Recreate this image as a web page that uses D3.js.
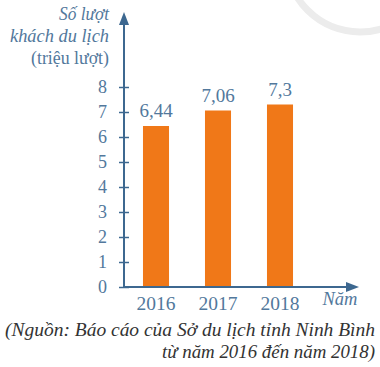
<!DOCTYPE html>
<html><head><meta charset="utf-8">
<script src="https://cdn.jsdelivr.net/npm/d3@7"></script>
</head>
<body style="margin:0"><svg id="c" width="380" height="367"></svg>
<script>
const years = ["2016","2017","2018"];
const visitors = [6.44, 7.06, 7.3];
const valueLabels = ["6,44","7,06","7,3"];
const yTicks = [0,1,2,3,4,5,6,7,8];
const yTitle = ["Số lượt","khách du lịch","(triệu lượt)"];
const xTitle = "Năm";
const source = ["(Nguồn: Báo cáo của Sở du lịch tỉnh Ninh Bình","từ năm 2016 đến năm 2018)"];

const svg = d3.select("#c");
const axisCol = "#3d6890", textCol = "#52789c", barCol = "#f07818";
const x0 = 124, y0 = 287;

function serif(sel, size, italic){
  return sel.attr("font-family", "'Liberation Serif'")
            .style("font-family", "'Liberation Serif'")
            .attr("font-size", size)
            .style("font-style", italic ? "italic" : "normal");
}

// faint decoration arc
svg.append("circle").attr("cx",360).attr("cy",-42).attr("r",74)
  .attr("fill","none").attr("stroke","#ececec").attr("stroke-width",7);

const y = d3.scaleLinear().domain([0,8]).range([y0, 87]);
const x = d3.scaleBand().domain(years).range([125, 311]).paddingInner(0.58).paddingOuter(0.29);

// bars
svg.selectAll("rect.bar").data(visitors).join("rect")
  .attr("class","bar")
  .attr("x",(d,i)=>x(years[i]))
  .attr("width",x.bandwidth())
  .attr("y",d=>y(d))
  .attr("height",d=>y0-y(d))
  .attr("fill",barCol);

// value labels
serif(svg.selectAll("text.val").data(visitors).join("text")
  .attr("class","val")
  .attr("x",(d,i)=>x(years[i])+x.bandwidth()/2)
  .attr("y",d=>y(d)-9)
  .attr("text-anchor","middle")
  .attr("fill",textCol)
  .text((d,i)=>valueLabels[i]), 19, false);

// y axis
const yAxis = d3.axisLeft(y).tickValues(yTicks).tickSize(0).tickPadding(17).tickFormat(d3.format("d"));
const gy = svg.append("g").attr("transform",`translate(${x0},0)`).call(yAxis);
gy.select(".domain").remove();
serif(gy, 18, false);
serif(gy.selectAll("text"), 18, false).attr("fill",textCol);
gy.selectAll(".tick").append("line").attr("x1",-5).attr("x2",5).attr("stroke",axisCol).attr("stroke-width",1.5);

// x axis labels
const xAxis = d3.axisBottom(x).tickSize(0).tickPadding(9);
const gx = svg.append("g").attr("transform",`translate(0,${y0})`).call(xAxis);
gx.select(".domain").remove();
serif(gx, 19.5, false);
serif(gx.selectAll("text"), 19.5, false).attr("fill",textCol);

// axis lines with arrows
svg.append("line").attr("x1",x0).attr("y1",y0).attr("x2",x0).attr("y2",22)
  .attr("stroke",axisCol).attr("stroke-width",2);
svg.append("path").attr("d",`M${x0},12 L${x0-5},25 L${x0+5},25 Z`).attr("fill",axisCol);
svg.append("line").attr("x1",x0-1).attr("y1",y0).attr("x2",350).attr("y2",y0)
  .attr("stroke",axisCol).attr("stroke-width",2);
svg.append("path").attr("d",`M359,${y0} L346,${y0-5} L346,${y0+5} Z`).attr("fill",axisCol);

// axis titles (widths fitted to the reference)
const titleWidths = [50, 99, 78];
yTitle.forEach((t,i)=>{
  serif(svg.append("text").attr("x",109).attr("y",[20,42,64][i])
    .attr("text-anchor","end").attr("fill",textCol)
    .attr("textLength", titleWidths[i]).attr("lengthAdjust","spacingAndGlyphs")
    .text(t), 18.5, i<2);
});
serif(svg.append("text").attr("x",340).attr("y",305).attr("text-anchor","middle")
  .attr("fill",textCol).text(xTitle), 18.5, true);

// source
serif(svg.append("text").attr("x",5).attr("y",336)
  .attr("textLength",370).attr("lengthAdjust","spacingAndGlyphs")
  .attr("fill","#333").text(source[0]), 18, true);
serif(svg.append("text").attr("x",375).attr("y",358).attr("text-anchor","end")
  .attr("textLength",213).attr("lengthAdjust","spacingAndGlyphs")
  .attr("fill","#333").text(source[1]), 18, true);
</script></body></html>
